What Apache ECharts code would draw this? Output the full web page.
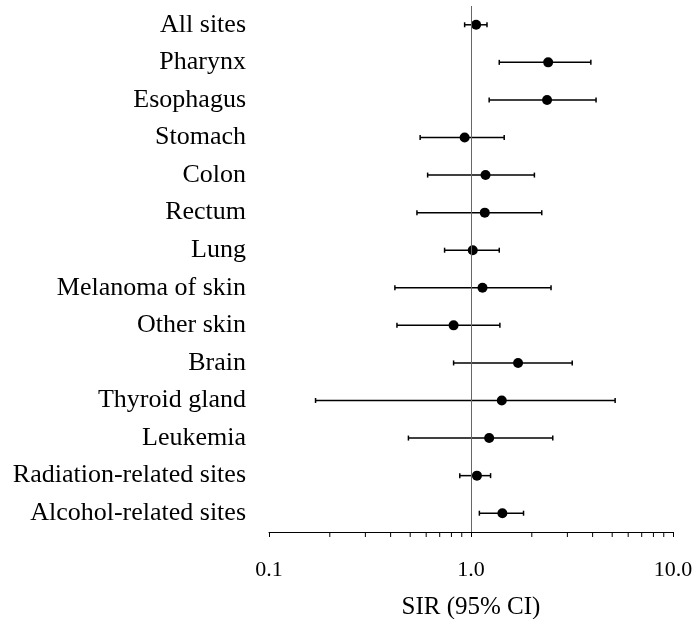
<!DOCTYPE html>
<html>
<head>
<meta charset="utf-8">
<script src="https://cdn.jsdelivr.net/npm/echarts@6/dist/echarts.min.js"></script>
<style>
  html, body { margin: 0; padding: 0; background: #fff; }
  #chart { width: 695px; height: 619px; }
</style>
</head>
<body>
<div id="chart"></div>
<script>
const categories = ['All sites', 'Pharynx', 'Esophagus', 'Stomach', 'Colon', 'Rectum', 'Lung',
  'Melanoma of skin', 'Other skin', 'Brain', 'Thyroid gland', 'Leukemia',
  'Radiation-related sites', 'Alcohol-related sites']
const sir    = [1.06, 2.41, 2.38, 0.93, 1.18, 1.17, 1.02, 1.14, 0.82, 1.71, 1.42, 1.23, 1.07, 1.43]
const ciLow  = [0.93, 1.38, 1.23, 0.56, 0.61, 0.54, 0.74, 0.42, 0.43, 0.82, 0.17, 0.49, 0.88, 1.10]
const ciHigh = [1.20, 3.92, 4.16, 1.46, 2.06, 2.24, 1.38, 2.49, 1.39, 3.17, 5.17, 2.54, 1.25, 1.82]
const minorTicks = [0.2, 0.3, 0.4, 0.5, 0.6, 0.7, 0.8, 0.9, 2, 3, 4, 5, 6, 7, 8, 9]

const font = 'Liberation Serif'
const chart = echarts.init(document.getElementById('chart'))

const errData = categories.map((c, i) => [ciLow[i], ciHigh[i], i])
const dotData = categories.map((c, i) => [sir[i], i])

chart.setOption({
  animation: false,
  grid: { left: 269, right: 22, top: 6, bottom: 87, outerBoundsMode: 'none' },
  xAxis: {
    type: 'log',
    logBase: 10,
    min: 0.1,
    max: 10,
    name: 'SIR (95% CI)',
    nameLocation: 'middle',
    nameGap: 63,
    nameTextStyle: { fontFamily: font, fontSize: 25, color: '#000' },
    axisLine: { show: true, lineStyle: { color: '#000', width: 1 } },
    axisTick: { show: true, length: 5, lineStyle: { color: '#000' } },
    axisLabel: {
      fontFamily: font, fontSize: 22, color: '#000', margin: 27,
      formatter: v => Number(v).toFixed(1)
    },
    splitLine: { show: false }
  },
  yAxis: {
    type: 'category',
    data: categories,
    inverse: true,
    axisLine: { show: false },
    axisTick: { show: false },
    axisLabel: { fontFamily: font, fontSize: 26, color: '#000', margin: 23 },
    splitLine: { show: false }
  },
  series: [
    {
      type: 'custom',
      data: errData,
      encode: { x: [0, 1], y: 2 },
      renderItem: (params, api) => {
        const lo = api.coord([api.value(0), api.value(2)])
        const hi = api.coord([api.value(1), api.value(2)])
        const h = 2.5
        const style = { stroke: '#000', lineWidth: 1.5 }
        return {
          type: 'group',
          children: [
            { type: 'line', shape: { x1: lo[0], y1: lo[1], x2: hi[0], y2: hi[1] }, style },
            { type: 'line', shape: { x1: lo[0], y1: lo[1] - h, x2: lo[0], y2: lo[1] + h }, style },
            { type: 'line', shape: { x1: hi[0], y1: hi[1] - h, x2: hi[0], y2: hi[1] + h }, style }
          ]
        }
      },
      z: 3
    },
    {
      type: 'scatter',
      data: dotData,
      symbol: 'circle',
      symbolSize: 10,
      itemStyle: { color: '#000', opacity: 1 },
      z: 4,
      markLine: {
        silent: true,
        symbol: 'none',
        label: { show: false },
        lineStyle: { color: '#666', type: 'solid', width: 1 },
        data: [{ xAxis: 1 }]
      }
    },
    {
      type: 'custom',
      data: minorTicks.map(v => [v]),
      encode: { x: 0 },
      silent: true,
      renderItem: (params, api) => {
        const x = api.coord([api.value(0), 0])[0]
        const base = params.coordSys.y + params.coordSys.height
        return {
          type: 'line',
          shape: { x1: x, y1: base, x2: x, y2: base + 5 },
          style: { stroke: '#000', lineWidth: 1 }
        }
      }
    }
  ]
})
</script>
</body>
</html>
